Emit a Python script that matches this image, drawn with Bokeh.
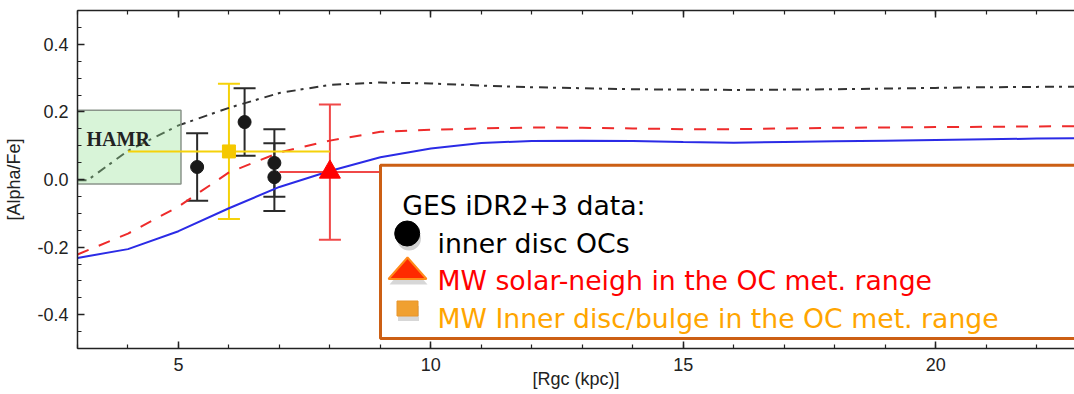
import numpy as np
from bokeh.plotting import figure
from bokeh.models import (Range1d, LinearAxis, FixedTicker, Whisker, TeeHead,
                          ColumnDataSource)
from bokeh.core.properties import value
from bokeh.embed import file_html
from bokeh.resources import INLINE

# --- chemical-evolution model curves: [alpha/Fe] vs galactocentric radius ---
r_model = [3, 4, 5, 6, 7, 8, 9, 10, 11, 12, 13, 14, 15, 16, 17, 18, 19, 20, 21, 22, 23]
alpha_thin = [-0.232, -0.206, -0.153, -0.085, -0.022, 0.025, 0.066, 0.092, 0.108,
              0.114, 0.115, 0.114, 0.111, 0.109, 0.111, 0.113, 0.115, 0.117,
              0.119, 0.121, 0.122]
alpha_mid = [-0.222, -0.160, -0.080, 0.021, 0.080, 0.115, 0.141, 0.147, 0.151,
             0.154, 0.153, 0.151, 0.149, 0.149, 0.151, 0.153, 0.154, 0.155,
             0.156, 0.157, 0.158]
r_thick = [3.0, 3.2, 4, 5, 6, 7, 8, 9, 10, 11, 12, 13, 14, 15, 16, 17, 18, 19, 20, 21, 22, 23]
alpha_thick = [-0.002, -0.002, 0.085, 0.160, 0.212, 0.256, 0.280, 0.287, 0.284,
               0.278, 0.273, 0.270, 0.267, 0.266, 0.265, 0.266, 0.267, 0.269,
               0.271, 0.273, 0.274, 0.275]

# --- GES iDR2+3 inner-disc open clusters ---
oc_r = [5.37, 6.31, 6.90, 6.90]
oc_alpha = [0.037, 0.170, 0.049, 0.007]
oc_err = [0.10, 0.10, 0.10, 0.10]

# --- Milky Way field stars in the OC metallicity range ---
inner_r = [6.0]
inner_alpha = [0.083]
inner_r_err = [2.0]
inner_alpha_err = [0.2]

solar_r = [8.0]
solar_alpha = [0.022]
solar_r_err = [1.0]
solar_alpha_err = [0.2]

# --- high-alpha metal-rich (HAMR) region ---
hamr_r = [3.0, 5.05]
hamr_alpha = [-0.013, 0.205]

x_ticks = [5, 10, 15, 20]
x_tick_labels = ["5", "10", "15", "20"]
x_minor = list(range(3, 24))
y_ticks = [-0.4, -0.2, 0.0, 0.2, 0.4]
y_tick_labels = ["-0.4", "-0.2", "0.0", "0.2", "0.4"]
y_minor = [round(v, 2) for v in np.arange(-0.5, 0.5001, 0.05)]

legend_title = "GES iDR2+3 data:"
legend_items = ["inner disc OCs",
                "MW solar-neigh in the OC met. range",
                "MW Inner disc/bulge in the OC met. range"]

# --- frame geometry ---
W, H = 1074, 394
LEFT, TOP = 77, 10
FW, FH = W - LEFT, 338
X0, X1 = 3.0, 22.75
Y0, Y1 = -0.5, 0.5


def px_x(px):
    return X0 + (px - LEFT) / FW * (X1 - X0)


def px_y(py):
    return Y1 - (py - TOP) / FH * (Y1 - Y0)


p = figure(width=W, height=H, x_range=Range1d(X0, X1), y_range=Range1d(Y0, Y1),
           output_backend="svg", toolbar_location=None,
           min_border_left=LEFT, min_border_right=0, min_border_top=TOP,
           min_border_bottom=H - TOP - FH)
p.outline_line_color = None
p.xgrid.visible = False
p.ygrid.visible = False
p.background_fill_color = "white"
p.border_fill_color = "white"

TICK_FONT = "Liberation Sans"
xt = FixedTicker(ticks=x_ticks, minor_ticks=x_minor)
yt = FixedTicker(ticks=y_ticks, minor_ticks=y_minor)

xa = p.xaxis[0]
xa.ticker = xt
xa.major_label_overrides = {t: s for t, s in zip(x_ticks, x_tick_labels)}
xa.major_label_standoff = 9
xa.axis_label = "[Rgc (kpc)]"
xa.axis_label_standoff = -5
ya = p.yaxis[0]
ya.ticker = yt
ya.major_label_overrides = {t: s for t, s in zip(y_ticks, y_tick_labels)}
ya.major_label_standoff = 9
ya.axis_label = "[Alpha/Fe]"
ya.axis_label_standoff = 10
for ax in (xa, ya):
    ax.axis_label_text_font = TICK_FONT
    ax.axis_label_text_font_size = "18px"
    ax.axis_label_text_font_style = "normal"
    ax.axis_label_text_color = "#222222"
    ax.major_label_text_font_size = "18px"

# mirrored tick marks along the top edge, without labels
top = LinearAxis(ticker=xt, major_label_standoff=0,
                 major_label_overrides={t: "" for t in x_ticks})
p.add_layout(top, "above")

for ax in (xa, ya, top):
    ax.axis_line_color = "#222222"
    ax.axis_line_width = 1.5
    ax.major_tick_line_color = "#222222"
    ax.minor_tick_line_color = "#222222"
    ax.major_tick_line_width = 1.5
    ax.minor_tick_line_width = 1.2
    ax.major_tick_in = 7
    ax.major_tick_out = 0
    ax.minor_tick_in = 4
    ax.minor_tick_out = 0
    ax.major_label_text_font = TICK_FONT
    ax.major_label_text_color = "#222222"

# model curves
p.line(r_model, alpha_thin, line_color="#2b2be6", line_width=2)
p.line(r_model, alpha_mid, line_color="#ee2b2b", line_width=2, line_dash="12 11")
p.line(r_thick, alpha_thick, line_color="#333333", line_width=2, line_dash="9 5 3 6")

# HAMR region
p.quad(left=[hamr_r[0]], right=[hamr_r[1]], bottom=[hamr_alpha[0]], top=[hamr_alpha[1]],
       fill_color="#8fdf8f", fill_alpha=0.35, line_color="#8a948a", line_width=1.5)
p.text(x=[px_x(86)], y=[px_y(138.5)], text=["HAMR"], text_font=value("Liberation Serif"),
       text_font_size=value("20px"), text_font_style="bold", text_color="#222222",
       text_baseline="alphabetic", text_align="left")

# inner disc / bulge field stars
YEL = "#f5d20a"
p.segment(x0=[r - e for r, e in zip(inner_r, inner_r_err)], y0=inner_alpha,
          x1=[r + e for r, e in zip(inner_r, inner_r_err)], y1=inner_alpha,
          line_color=YEL, line_width=2)
src_in = ColumnDataSource(dict(x=inner_r,
                               lo=[a - e for a, e in zip(inner_alpha, inner_alpha_err)],
                               hi=[a + e for a, e in zip(inner_alpha, inner_alpha_err)]))
p.add_layout(Whisker(source=src_in, base="x", lower="lo", upper="hi", dimension="height",
                     line_color=YEL, line_width=2,
                     upper_head=TeeHead(size=22, line_color=YEL, line_width=2),
                     lower_head=TeeHead(size=22, line_color=YEL, line_width=2)))

# solar neighbourhood field stars
RED = "#f04848"
p.segment(x0=[r - e for r, e in zip(solar_r, solar_r_err)], y0=solar_alpha,
          x1=[r + e for r, e in zip(solar_r, solar_r_err)], y1=solar_alpha,
          line_color=RED, line_width=2)
src_sn = ColumnDataSource(dict(x=solar_r,
                               lo=[a - e for a, e in zip(solar_alpha, solar_alpha_err)],
                               hi=[a + e for a, e in zip(solar_alpha, solar_alpha_err)]))
p.add_layout(Whisker(source=src_sn, base="x", lower="lo", upper="hi", dimension="height",
                     line_color=RED, line_width=2,
                     upper_head=TeeHead(size=22, line_color=RED, line_width=2),
                     lower_head=TeeHead(size=22, line_color=RED, line_width=2)))

# open clusters
BLK = "#2a2a2a"
src_oc = ColumnDataSource(dict(x=oc_r, y=oc_alpha,
                               lo=[a - e for a, e in zip(oc_alpha, oc_err)],
                               hi=[a + e for a, e in zip(oc_alpha, oc_err)]))
p.add_layout(Whisker(source=src_oc, base="x", lower="lo", upper="hi", dimension="height",
                     line_color=BLK, line_width=2,
                     upper_head=TeeHead(size=22, line_color=BLK, line_width=2),
                     lower_head=TeeHead(size=22, line_color=BLK, line_width=2)))
p.scatter("x", "y", source=src_oc, marker="circle", size=13,
          fill_color="#1a1a1a", line_color="#1a1a1a")
p.scatter(inner_r, inner_alpha, marker="square", size=13,
          fill_color="#f5c800", line_color="#f5c800")
p.scatter(solar_r, solar_alpha, marker="triangle", size=21,
          fill_color="#ff0000", line_color="#ff0000")

# legend panel
p.quad(left=[px_x(380)], right=[X1 + 1], top=[px_y(164.7)], bottom=[px_y(338)],
       fill_color="white", line_color="#cc5f14", line_width=3)

# legend symbols with soft drop shadows
SH = "#7a7a7a"
p.scatter([px_x(408.5)], [px_y(238)], marker="circle", size=24,
          fill_color=SH, line_color=None, fill_alpha=0.35)
p.scatter([px_x(406.7)], [px_y(233)], marker="circle", size=25,
          fill_color="black", line_color="black")
p.patch([px_x(389), px_x(427), px_x(408)], [px_y(284), px_y(284), px_y(262)],
        fill_color=SH, fill_alpha=0.3, line_color=None)
p.patch([px_x(388), px_x(426), px_x(407)], [px_y(278.5), px_y(278.5), px_y(257)],
        fill_color="#ff2a00", line_color="#ff8a1a", line_width=2)
p.rect([px_x(408)], [px_y(313)], width=21, height=15, width_units="screen",
       height_units="screen", fill_color=SH, fill_alpha=0.3, line_color=None)
p.rect([px_x(407)], [px_y(308)], width=21, height=15, width_units="screen",
       height_units="screen", fill_color="#f0a030", line_color="#e8952a", line_width=1)

LEG_FONT = value("DejaVu Sans")
LEG_SIZE = value("26.7px")
p.text(x=[px_x(401.7)], y=[px_y(205)], text=[legend_title], text_font=LEG_FONT,
       text_font_size=LEG_SIZE, text_color="black", text_baseline="alphabetic")
p.text(x=[px_x(437)] * 3, y=[px_y(242.7), px_y(280), px_y(318.3)], text=legend_items,
       text_font=LEG_FONT, text_font_size=LEG_SIZE,
       text_color=["black", "#ff0000", "#ffa500"], text_baseline="alphabetic")

open("out.html", "w").write(file_html(p, INLINE))
